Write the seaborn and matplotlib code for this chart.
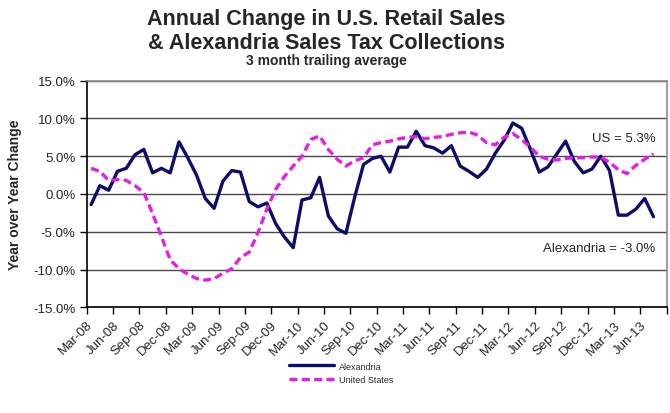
import seaborn as sns
import matplotlib.pyplot as plt
import pandas as pd

# monthly values, Mar-08 .. Jul-13 (3 month trailing average, % y/y)
alexandria = [-1.4, 1.1, 0.5, 3.0, 3.4, 5.2, 5.9, 2.8, 3.4, 2.8, 6.9, 4.8,
              2.5, -0.6, -1.9, 1.7, 3.1, 2.9, -1.0, -1.7, -1.2, -3.9, -5.7, -7.1,
              -0.8, -0.5, 2.2, -2.9, -4.6, -5.2, -0.4, 3.9, 4.7, 5.0, 2.9, 6.2,
              6.2, 8.3, 6.4, 6.1, 5.4, 6.4, 3.7, 3.0, 2.2, 3.3, 5.4, 7.1,
              9.4, 8.7, 5.9, 2.9, 3.6, 5.3, 7.0, 4.3, 2.8, 3.3, 5.0, 3.1,
              -2.8, -2.8, -2.0, -0.6, -3.0]
united_states = [3.4, 3.0, 1.8, 1.9, 1.8, 1.1, 0.2, -2.6, -5.6, -8.7, -9.9, -10.6,
                 -11.2, -11.4, -11.2, -10.5, -9.9, -8.4, -7.7, -5.1, -2.0, 0.6, 2.3, 3.7,
                 5.0, 7.2, 7.7, 5.9, 4.6, 3.7, 4.4, 4.8, 6.5, 6.8, 7.0, 7.3,
                 7.5, 7.6, 7.3, 7.5, 7.6, 7.9, 8.1, 8.2, 7.8, 6.8, 6.5, 7.5,
                 8.0, 7.2, 6.2, 5.0, 4.6, 4.5, 4.7, 4.8, 4.8, 4.9, 4.9, 4.2,
                 3.2, 2.7, 3.8, 4.6, 5.3]
tick_labels = ["Mar-08", "Jun-08", "Sep-08", "Dec-08", "Mar-09", "Jun-09", "Sep-09",
               "Dec-09", "Mar-10", "Jun-10", "Sep-10", "Dec-10", "Mar-11", "Jun-11",
               "Sep-11", "Dec-11", "Mar-12", "Jun-12", "Sep-12", "Dec-12", "Mar-13",
               "Jun-13"]
y_ticks = [-15, -10, -5, 0, 5, 10, 15]

n = len(alexandria)
df = pd.DataFrame({
    "month": list(range(n)) * 2,
    "pct": alexandria + united_states,
    "series": ["Alexandria"] * n + ["United States"] * n,
})

sns.set_style("white")
plt.rcParams["font.family"] = ["Liberation Sans", "DejaVu Sans"]

fig, ax = plt.subplots(figsize=(6.7, 4.14), dpi=100)
fig.subplots_adjust(left=0.1294, right=0.995, top=0.8027, bottom=0.2553)

sns.lineplot(data=df, x="month", y="pct", hue="series", style="series",
             palette={"Alexandria": "#0c0c6a", "United States": "#e41ee4"},
             dashes={"Alexandria": "", "United States": (2.4, 1.3)},
             linewidth=2.4, legend=False, ax=ax)

ax.set_xlim(-0.5, n + 0.5)
ax.set_ylim(-15, 15)
ax.set_xticks([i * 3 - 0.5 for i in range(len(tick_labels) + 1)])
ax.set_xticklabels(tick_labels + [""], rotation=45, ha="right", va="top",
                   rotation_mode="anchor", fontsize=9.5)
ax.set_yticks(y_ticks)
ax.set_yticklabels([f"{v:.1f}%" for v in y_ticks], fontsize=9.5)
ax.tick_params(axis="both", direction="out", length=5, width=1, color="black",
               bottom=True, left=True, pad=3)
ax.set_xlabel("")
ax.set_ylabel("Year over Year Change", fontsize=10, weight="bold", labelpad=8)

ax.yaxis.grid(True, color="#4a4a4a", linewidth=1.0)
ax.set_axisbelow(True)
for side in ["top", "right"]:
    ax.spines[side].set_color("#8c8c8c")
    ax.spines[side].set_linewidth(1.2)
for side in ["left", "bottom"]:
    ax.spines[side].set_color("black")
    ax.spines[side].set_linewidth(1.2)

ax.text(64.2, 7.45, "US = 5.3%", ha="right", va="center", fontsize=9.5)
ax.text(64.2, -7.1, "Alexandria = -3.0%", ha="right", va="center", fontsize=9.5)

fig.legend(ax.lines[:2], ["Alexandria", "United States"], loc="upper left",
           bbox_to_anchor=(0.425, 0.135), frameon=False, fontsize=6.5,
           handlelength=5, labelspacing=0.5, handletextpad=0.5, borderpad=0)

fig.text(0.487, 0.952, "Annual Change in U.S. Retail Sales", ha="center", va="center",
         fontsize=15.5, weight="bold")
fig.text(0.487, 0.895, "& Alexandria Sales Tax Collections", ha="center", va="center",
         fontsize=15.5, weight="bold")
fig.text(0.487, 0.852, "3 month trailing average", ha="center", va="center",
         fontsize=10, weight="bold")

fig.savefig("out.png", dpi=100)
